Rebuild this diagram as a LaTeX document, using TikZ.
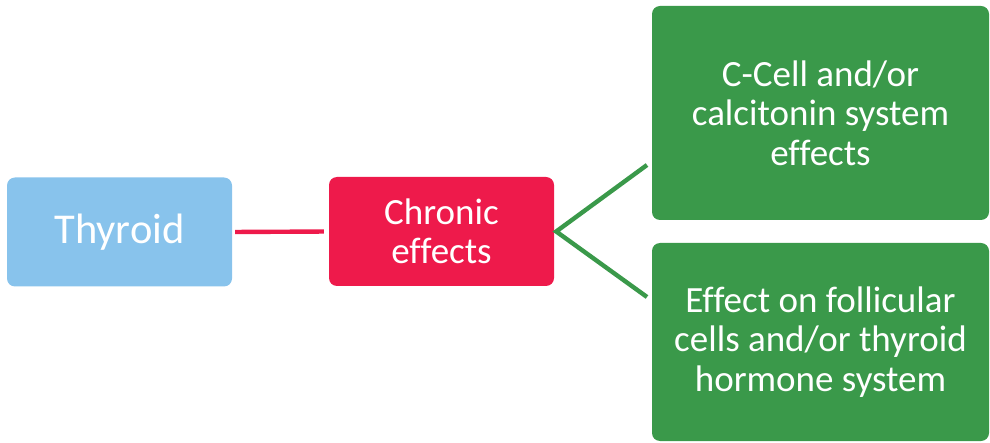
\documentclass[tikz,border=0pt]{standalone}
\usepackage{fontspec}
\setmainfont{Carlito}[Ligatures=NoCommon]
\definecolor{tblue}{HTML}{88C3EC}
\definecolor{tred}{HTML}{EE1A4B}
\definecolor{tgreen}{HTML}{3A994A}
\begin{document}
\begin{tikzpicture}[x=1pt,y=-1pt,
  box/.style={rounded corners=8pt, inner sep=0pt, text=white, align=center, anchor=center},
  small/.style={font=\fontsize{37}{39.5}\selectfont},
  link/.style={line width=4.4pt}]
\useasboundingbox (0,0) rectangle (990,443);
\node[box, fill=tblue, minimum width=225pt, minimum height=109pt, font=\fontsize{42.5}{48}\selectfont] (thy) at (119.5,232) {Thyroid};
\node[box, fill=tred, minimum width=225pt, minimum height=109pt, small] (chr) at (441.5,231.5) {Chronic\\effects};
\node[box, fill=tgreen, minimum width=337pt, minimum height=214pt, small] (top) at (820.5,113) {C-Cell and/or\\calcitonin system\\effects};
\node[box, fill=tgreen, minimum width=337pt, minimum height=198pt, small] (bot) at (820.5,342) {Effect on follicular\\cells and/or thyroid\\hormone system};
\coordinate (ta) at (647,165);
\coordinate (ba) at (647,297);
\draw[link, tred, shorten <=3pt, shorten >=5pt] (thy.east) -- (chr.west);
\draw[link, tgreen] (ta) -- ([xshift=2pt]chr.east) -- (ba);
\end{tikzpicture}
\end{document}
